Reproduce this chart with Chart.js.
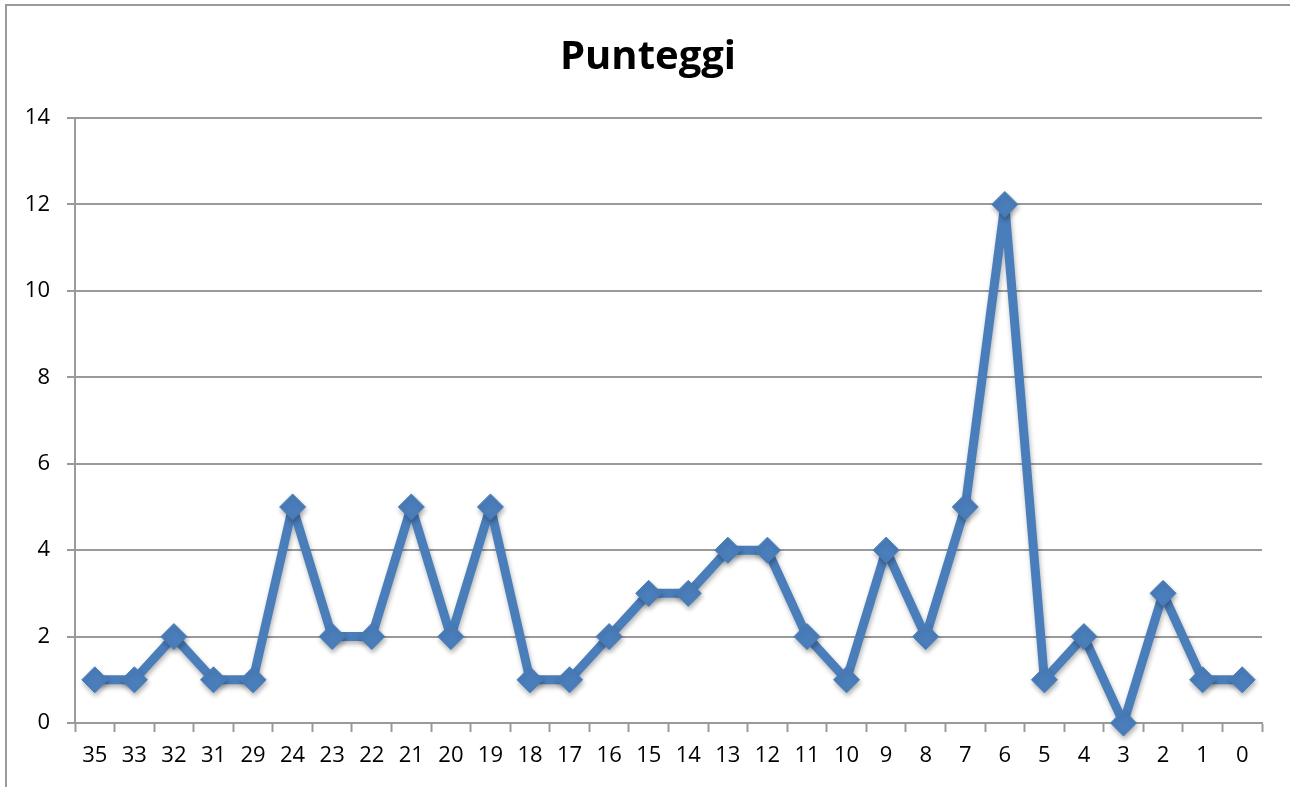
<!DOCTYPE html>
<html>
<head>
<meta charset="utf-8">
<script src="https://cdn.jsdelivr.net/npm/chart.js@4"></script>
<style>
    html, body { margin: 0; padding: 0; background: #fff; }
    #wrap { position: absolute; left: 0; top: 0; width: 1290px; height: 787px; }
</style>
</head>
<body>
<div id="wrap"><canvas id="scoreChart"></canvas></div>
<script>
const categories = ['35', '33', '32', '31', '29', '24', '23', '22', '21', '20', '19', '18', '17', '16', '15',
    '14', '13', '12', '11', '10', '9', '8', '7', '6', '5', '4', '3', '2', '1', '0'];
const scores = [1, 1, 2, 1, 1, 5, 2, 2, 5, 2, 5, 1, 1, 2, 3, 3, 4, 4, 2, 1, 4, 2, 5, 12, 1, 2, 0, 3, 1, 1];
const yTicks = [0, 2, 4, 6, 8, 10, 12, 14];
const chartTitle = 'Punteggi';

const lineBlue = '#4a7ebb';
const fontFamily = "'Open Sans', 'Noto Sans', sans-serif";

// outer frame of the chart box (left and top edges only are visible) + title
const framePlugin = {
    id: 'frame',
    beforeDraw(chart) {
        const ctx = chart.ctx;
        ctx.save();
        ctx.strokeStyle = '#9a9a9a';
        ctx.lineWidth = 2;
        ctx.beginPath();
        ctx.moveTo(6, 787);
        ctx.lineTo(6, 5);
        ctx.lineTo(1290, 5);
        ctx.stroke();

        ctx.fillStyle = '#000';
        ctx.font = 'bold 40px ' + fontFamily;
        ctx.textAlign = 'center';
        ctx.textBaseline = 'middle';
        ctx.fillText(chartTitle, 648, 58);
        ctx.restore();
    }
};

// soft shadow under line and markers
const shadowPlugin = {
    id: 'shadow',
    beforeDatasetsDraw(chart) {
        const ctx = chart.ctx;
        ctx.save();
        ctx.shadowColor = 'rgba(0, 0, 0, 0.3)';
        ctx.shadowBlur = 5;
        ctx.shadowOffsetX = 1;
        ctx.shadowOffsetY = 3;
    },
    afterDatasetsDraw(chart) {
        chart.ctx.restore();
    }
};

document.addEventListener('DOMContentLoaded', function() {
    const ctx = document.getElementById('scoreChart').getContext('2d');
    new Chart(ctx, {
        type: 'line',
        data: {
            labels: categories,
            datasets: [{
                label: chartTitle,
                data: scores,
                borderColor: lineBlue,
                backgroundColor: lineBlue,
                borderWidth: 9,
                borderJoinStyle: 'round',
                pointStyle: 'rectRot',
                pointRadius: 13,
                pointBackgroundColor: lineBlue,
                pointBorderColor: lineBlue,
                pointBorderWidth: 1,
                tension: 0,
                clip: false
            }]
        },
        options: {
            responsive: true,
            maintainAspectRatio: false,
            animation: false,
            layout: {
                padding: { left: 0, right: 28, top: 118, bottom: 0 }
            },
            scales: {
                x: {
                    offset: true,
                    grid: {
                        offset: true,
                        drawOnChartArea: false,
                        drawTicks: true,
                        tickLength: 9,
                        tickWidth: 2,
                        tickColor: '#9a9a9a'
                    },
                    border: { color: '#9a9a9a', width: 2 },
                    ticks: {
                        color: '#000',
                        font: { family: fontFamily, size: 22 },
                        padding: 11,
                        maxRotation: 0,
                        autoSkip: false
                    },
                    afterFit(scale) { scale.height = 64; }
                },
                y: {
                    min: 0,
                    max: 14,
                    afterBuildTicks(scale) {
                        scale.ticks = yTicks.map(v => ({ value: v }));
                    },
                    grid: {
                        color: '#9a9a9a',
                        lineWidth: 2,
                        tickLength: 8,
                        tickColor: '#9a9a9a'
                    },
                    border: { color: '#9a9a9a', width: 2 },
                    ticks: {
                        color: '#000',
                        font: { family: fontFamily, size: 22 },
                        padding: 17
                    },
                    afterFit(scale) { scale.width = 75; }
                }
            },
            plugins: {
                legend: { display: false },
                tooltip: { enabled: false },
                title: { display: false }
            }
        },
        plugins: [framePlugin, shadowPlugin]
    });
});
</script>
</body>
</html>
